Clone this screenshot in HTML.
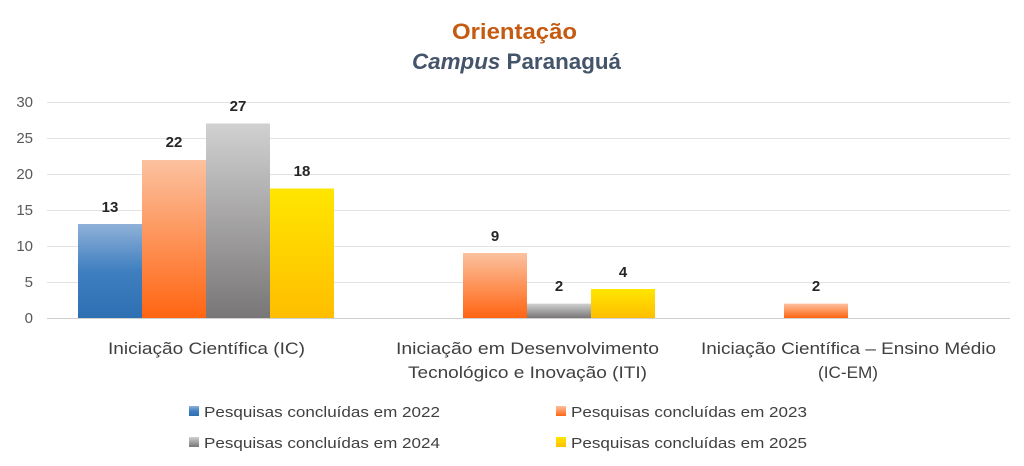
<!DOCTYPE html>
<html><head><style>body{margin:0;background:#fff}svg{display:block}</style></head><body>
<svg width="1024" height="466" xmlns="http://www.w3.org/2000/svg" font-family="Liberation Sans, DejaVu Sans, sans-serif">
<defs>
<linearGradient id="b" x1="0" y1="0" x2="0" y2="1"><stop offset="0" stop-color="#8fb1d8"/><stop offset="0.5" stop-color="#3f7fc0"/><stop offset="1" stop-color="#2e6fb3"/></linearGradient>
<linearGradient id="o" x1="0" y1="0" x2="0" y2="1"><stop offset="0" stop-color="#fcc19f"/><stop offset="1" stop-color="#ff6512"/></linearGradient>
<linearGradient id="g" x1="0" y1="0" x2="0" y2="1"><stop offset="0" stop-color="#d2d1d1"/><stop offset="1" stop-color="#787676"/></linearGradient>
<linearGradient id="y" x1="0" y1="0" x2="0" y2="1"><stop offset="0" stop-color="#ffe600"/><stop offset="1" stop-color="#ffbe00"/></linearGradient>
</defs>
<text x="452" y="39" textLength="125" lengthAdjust="spacingAndGlyphs" font-size="22" font-weight="bold" fill="#c55a11">Orientação</text>
<text x="412" y="69" textLength="209" lengthAdjust="spacingAndGlyphs" font-size="22" font-weight="bold" fill="#44546a"><tspan font-style="italic">Campus</tspan> Paranaguá</text>
<g stroke="#e3e3e3" stroke-width="1">
<line x1="47" x2="1010" y1="102.5" y2="102.5"/><line x1="47" x2="1010" y1="138.5" y2="138.5"/><line x1="47" x2="1010" y1="174.5" y2="174.5"/><line x1="47" x2="1010" y1="210.5" y2="210.5"/><line x1="47" x2="1010" y1="246.5" y2="246.5"/><line x1="47" x2="1010" y1="282.5" y2="282.5"/>
</g>
<line x1="47" x2="1010" y1="318.5" y2="318.5" stroke="#d0d0d0"/>
<g font-size="15" fill="#595959" text-anchor="end">
<text x="33" y="107">30</text><text x="33" y="143">25</text><text x="33" y="179">20</text><text x="33" y="215">15</text><text x="33" y="251">10</text><text x="33" y="287">5</text><text x="33" y="323">0</text>
</g>
<rect x="78" y="224" width="64" height="94" fill="url(#b)"/>
<rect x="142" y="160" width="64" height="158" fill="url(#o)"/>
<rect x="206" y="123.5" width="64" height="194.5" fill="url(#g)"/>
<rect x="270" y="188.5" width="64" height="129.5" fill="url(#y)"/>
<rect x="463" y="253" width="64" height="65" fill="url(#o)"/>
<rect x="527" y="303.6" width="64" height="14.4" fill="url(#g)"/>
<rect x="591" y="289" width="64" height="29" fill="url(#y)"/>
<rect x="784" y="303.6" width="64" height="14.4" fill="url(#o)"/>
<g font-size="15" font-weight="bold" fill="#262626" text-anchor="middle">
<text x="110" y="212">13</text><text x="174" y="147">22</text><text x="238" y="111">27</text><text x="302" y="176">18</text>
<text x="495" y="241">9</text><text x="559" y="291">2</text><text x="623" y="277">4</text><text x="816" y="291">2</text>
</g>
<g font-size="17" fill="#404040" lengthAdjust="spacingAndGlyphs">
<text x="108" y="354" textLength="197" lengthAdjust="spacingAndGlyphs">Iniciação Científica (IC)</text>
<text x="396" y="354" textLength="263" lengthAdjust="spacingAndGlyphs">Iniciação em Desenvolvimento</text>
<text x="408" y="378" textLength="239" lengthAdjust="spacingAndGlyphs">Tecnológico e Inovação (ITI)</text>
<text x="701" y="354" textLength="295" lengthAdjust="spacingAndGlyphs">Iniciação Científica – Ensino Médio</text>
<text x="818" y="378" textLength="60" lengthAdjust="spacingAndGlyphs">(IC-EM)</text>
</g>
<g font-size="15" fill="#404040">
<rect x="189" y="406" width="10" height="10" fill="url(#b)"/><text x="204" y="417" textLength="236" lengthAdjust="spacingAndGlyphs">Pesquisas concluídas em 2022</text>
<rect x="556" y="406" width="10" height="10" fill="url(#o)"/><text x="571" y="417" textLength="236" lengthAdjust="spacingAndGlyphs">Pesquisas concluídas em 2023</text>
<rect x="189" y="437" width="10" height="10" fill="url(#g)"/><text x="204" y="448" textLength="236" lengthAdjust="spacingAndGlyphs">Pesquisas concluídas em 2024</text>
<rect x="556" y="437" width="10" height="10" fill="url(#y)"/><text x="571" y="448" textLength="236" lengthAdjust="spacingAndGlyphs">Pesquisas concluídas em 2025</text>
</g>
</svg>
</body></html>
